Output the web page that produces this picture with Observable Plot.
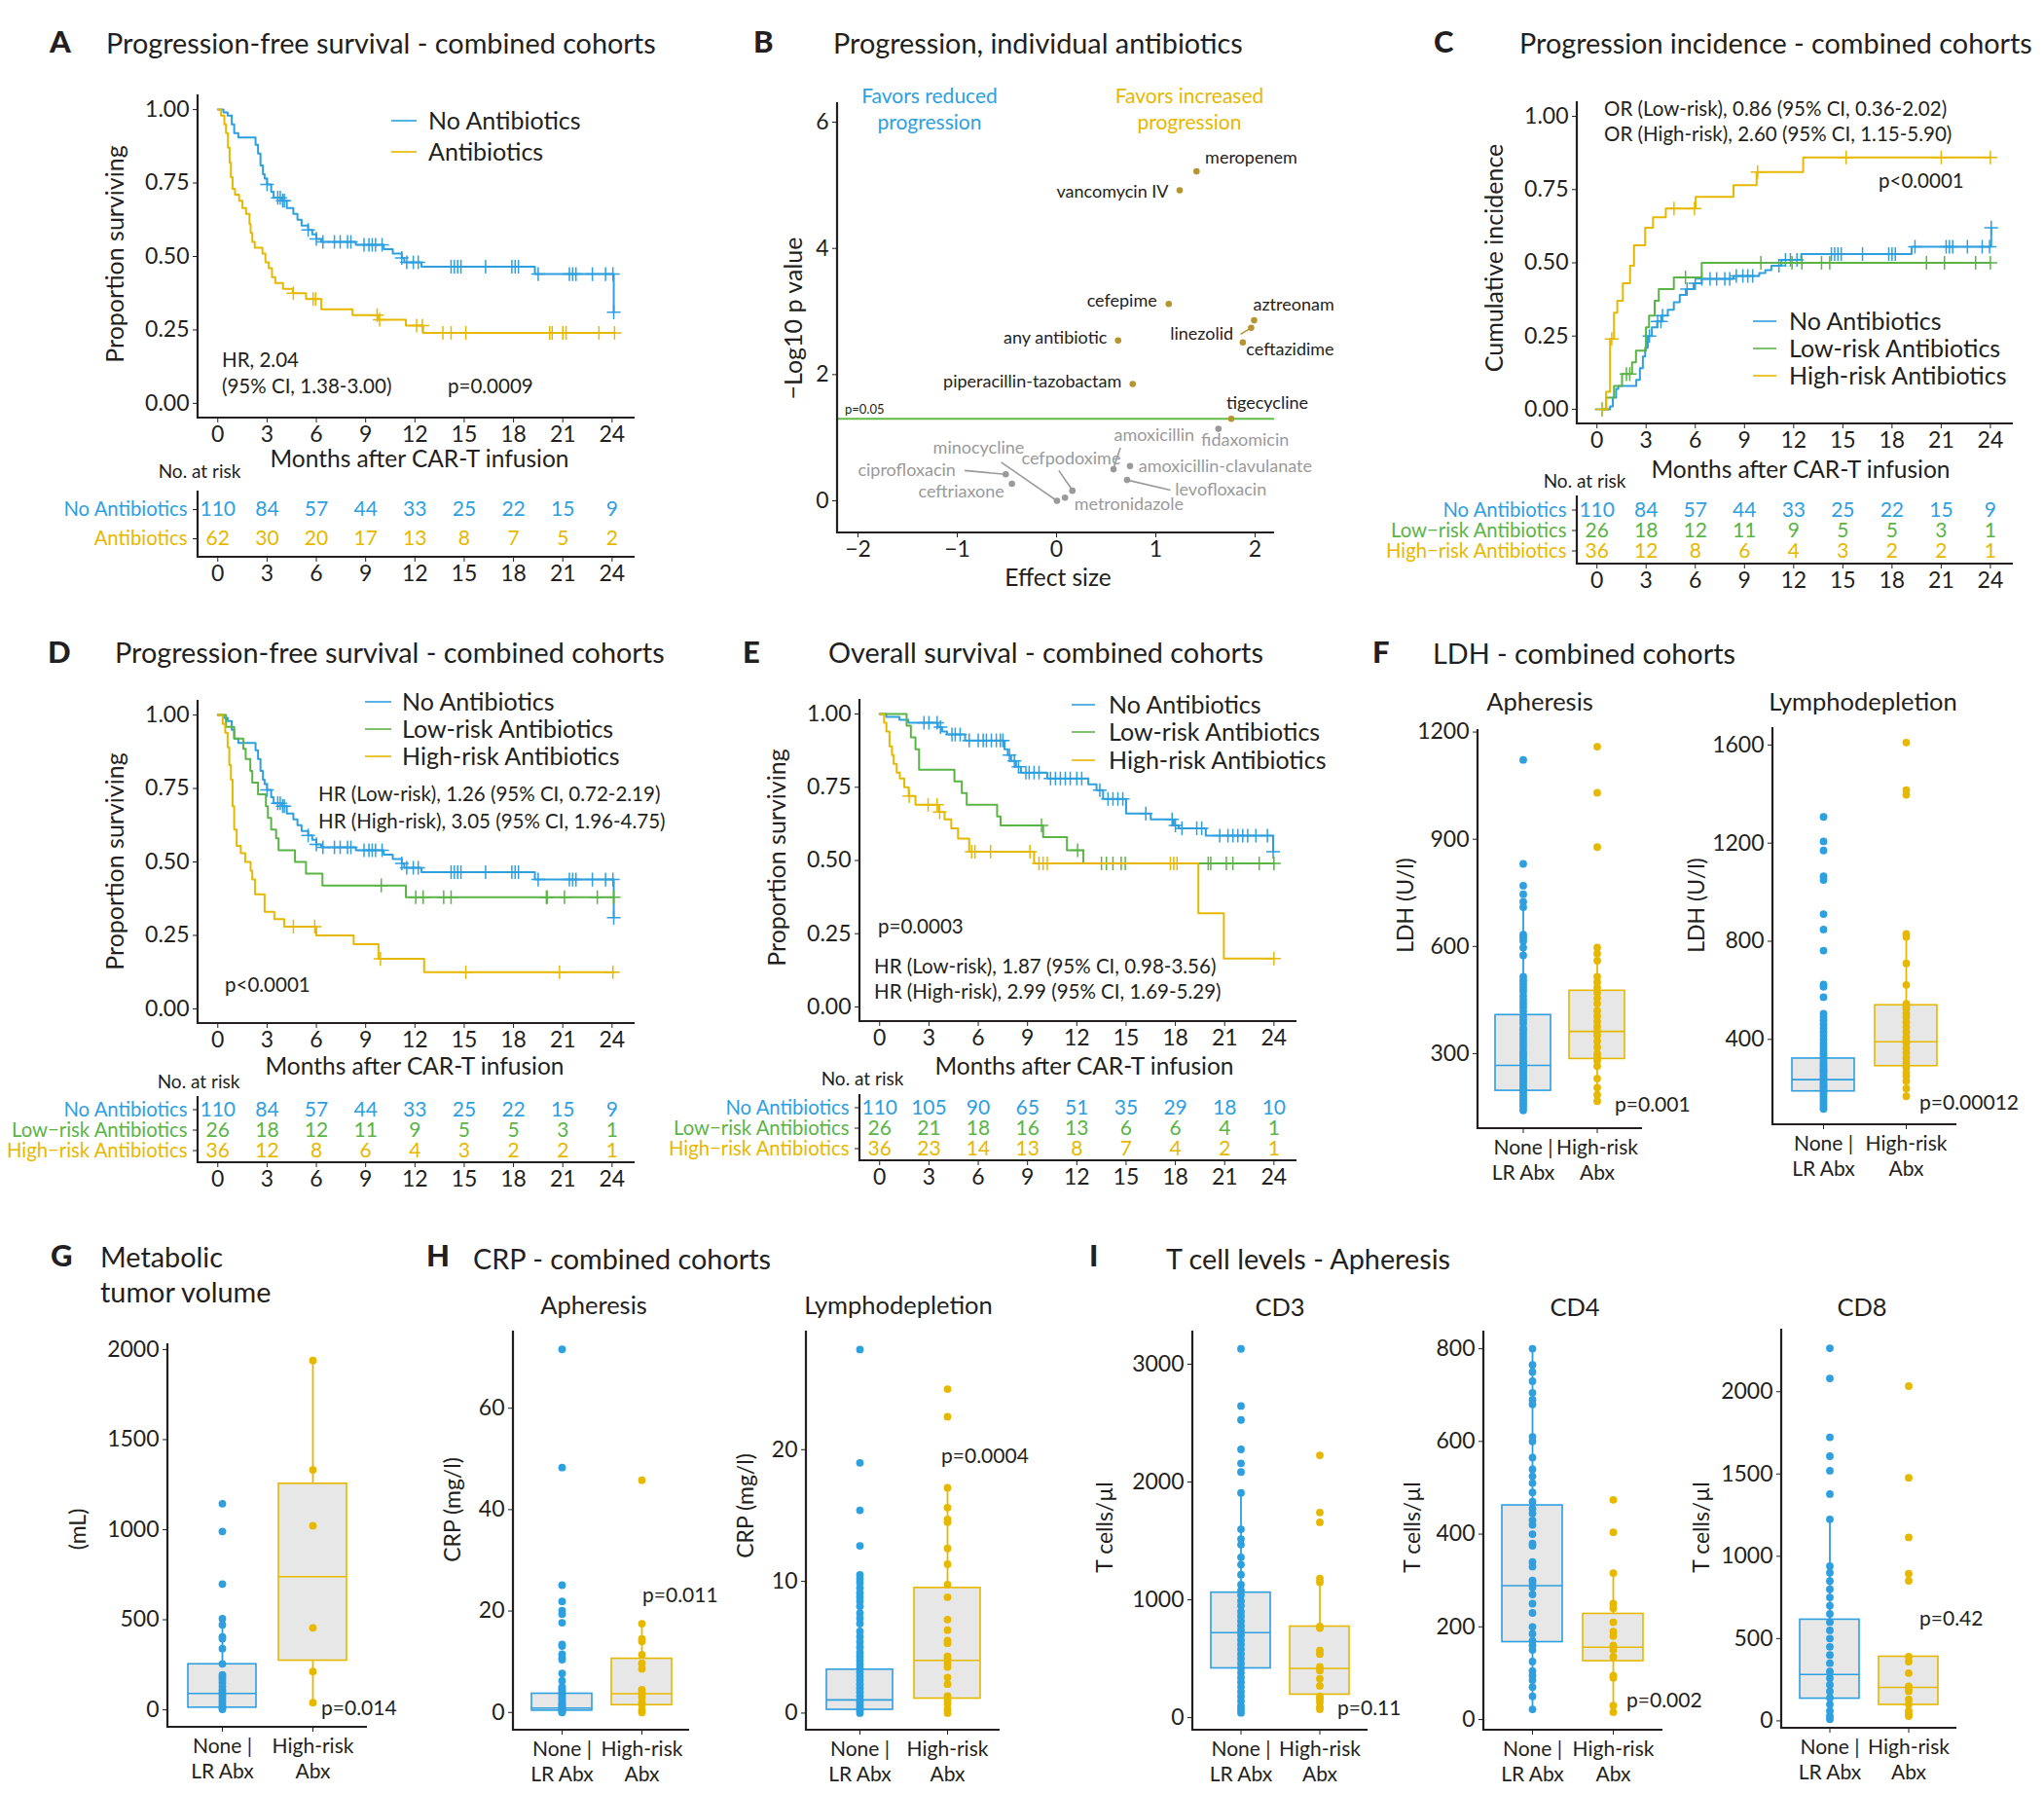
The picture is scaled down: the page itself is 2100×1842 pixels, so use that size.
<!DOCTYPE html>
<html>
<head>
<meta charset="utf-8">
<script src="https://cdn.jsdelivr.net/npm/d3@7"></script>
<script src="https://cdn.jsdelivr.net/npm/@observablehq/plot@0.6"></script>
<style>
html,body{margin:0;padding:0;background:#fff;}
#fig{position:relative;width:2100px;height:1842px;overflow:hidden;background:#fff;font-family:Lato,"Open Sans",sans-serif;}
</style>
</head>
<body>
<div id="fig"></div>
<script>
// ======================= DATA =======================
const monthTicks = [0, 3, 6, 9, 12, 15, 18, 21, 24];

// Progression-free survival, no antibiotics (panels A and D)
const pfsNoT = [0,0.35,0.6,0.85,1.0,1.25,2.3,2.45,2.6,2.75,2.85,3.0,3.25,3.4,3.9,4.2,4.6,4.85,5.1,5.5,5.75,6.0,6.3,8.4,10.1,10.65,11.2,11.35,12.4,19.3,24.1,24.1];
const pfsNoS = [1,0.99,0.98,0.95,0.92,0.905,0.88,0.85,0.81,0.78,0.765,0.745,0.72,0.70,0.69,0.665,0.645,0.625,0.605,0.59,0.575,0.56,0.55,0.54,0.525,0.51,0.495,0.48,0.465,0.44,0.44,0.31];
const pfsNoC = [3.0,3.65,3.8,3.95,4.05,5.5,6.0,6.4,7.1,7.45,7.9,8.1,8.9,9.2,9.4,9.6,10.0,11.2,11.5,11.9,12.2,14.2,14.4,14.6,14.8,16.3,17.9,18.1,18.3,19.5,21.4,21.6,21.8,22.8,23.6,24.05,24.1];

// PFS, any antibiotics (panel A)
const pfsAbxT = [0,0.2,0.4,0.5,0.62,0.72,0.8,0.9,1.05,1.3,1.5,1.72,1.93,2.0,2.1,2.25,2.72,2.9,3.1,3.3,3.5,3.97,4.57,5.37,6.3,8.2,9.8,11.45,12.5,24.15];
const pfsAbxS = [1,0.98,0.95,0.92,0.87,0.82,0.77,0.73,0.71,0.69,0.665,0.645,0.61,0.58,0.55,0.53,0.51,0.48,0.46,0.43,0.41,0.39,0.375,0.355,0.32,0.30,0.285,0.265,0.24,0.24];
const pfsAbxC = [4.6,5.8,5.95,9.7,9.85,12.1,12.45,13.7,14.2,15.1,20.2,20.35,21.0,21.2,23.2,24.15];

// PFS, low-risk / high-risk antibiotics (panel D)
const pfsLowT = [0,0.5,1.0,1.55,1.7,1.98,2.1,2.45,2.93,3.05,3.25,3.55,3.7,4.7,5.37,6.37,11.45,24.1];
const pfsLowS = [1,0.96,0.92,0.885,0.85,0.81,0.77,0.73,0.69,0.65,0.61,0.58,0.54,0.50,0.46,0.42,0.38,0.38];
const pfsLowC = [9.95,12.05,12.5,13.75,14.2,20.0,20.05,21.1,23.1,24.1];
const pfsHighT = [0,0.3,0.45,0.6,0.7,0.8,0.9,1.0,1.15,1.4,1.67,2.0,2.1,2.27,2.85,3.44,4.04,6.0,8.27,9.78,12.56,24.1];
const pfsHighS = [1,0.97,0.94,0.89,0.83,0.78,0.69,0.61,0.555,0.53,0.50,0.47,0.44,0.39,0.33,0.305,0.28,0.25,0.22,0.17,0.125,0.125];
const pfsHighC = [4.6,5.9,9.9,15.1,20.8,24.05];

// Cumulative incidence of progression (panel C)
const cinNoT = [0.3,0.8,0.97,1.17,1.3,2.4,2.62,2.8,2.94,3.1,3.35,3.67,3.96,4.32,4.69,5.05,5.42,5.9,6.39,8.33,9.9,10.27,10.64,11.25,12.46,19.19,24.05,24.05];
const cinNoS = [0,0.01,0.04,0.07,0.08,0.10,0.14,0.18,0.21,0.25,0.28,0.30,0.32,0.34,0.365,0.39,0.41,0.43,0.445,0.455,0.465,0.475,0.49,0.51,0.53,0.555,0.555,0.62];
const cinNoC = [0.3,3.2,3.7,3.9,4.0,5.5,6.0,6.4,6.9,7.3,7.8,8.1,8.5,8.9,9.2,9.5,11.1,11.5,11.8,12.2,14.3,14.5,14.7,14.9,16.2,17.8,18.0,18.2,19.4,21.3,21.5,21.7,22.6,23.5,23.95,24.05];
const cinLowT = [0.3,0.56,1.04,1.53,2.14,2.38,2.99,3.18,3.52,3.77,4.69,6.39,24.0];
const cinLowS = [0,0.04,0.08,0.12,0.16,0.20,0.28,0.32,0.37,0.41,0.45,0.50,0.50];
const cinLowC = [0.3,1.8,2.0,5.4,10.0,11.9,12.5,13.7,14.2,20.1,21.2,23.1,24.0];
const cinHighT = [0.3,0.56,0.8,1.04,1.24,1.58,2.02,2.26,2.94,3.42,4.2,6.02,8.33,9.74,12.58,24.0];
const cinHighS = [0,0.06,0.24,0.33,0.37,0.43,0.49,0.56,0.62,0.655,0.685,0.725,0.765,0.81,0.86,0.86];
const cinHighC = [0.3,0.9,4.7,5.95,9.8,15.2,21.0,24.0];

// Overall survival (panel E)
const osNoT = [0,0.4,1.2,1.75,3.55,3.8,4.1,5.2,7.6,7.8,8.0,8.3,8.6,10.2,12.7,13.2,13.6,15.0,16.5,17.9,18.2,19.85,23.95,23.95];
const osNoS = [1,0.99,0.98,0.97,0.955,0.94,0.93,0.91,0.88,0.86,0.84,0.82,0.80,0.78,0.76,0.74,0.71,0.66,0.64,0.62,0.61,0.585,0.585,0.53];
const osNoC = [2.7,3.0,3.5,3.7,4.4,4.6,4.9,5.45,6.0,6.3,6.5,6.8,7.1,7.35,7.5,7.9,8.2,8.45,8.9,9.1,9.4,9.7,10.4,10.7,11.0,11.3,11.6,12.0,12.3,13.4,13.9,14.2,14.5,14.8,16.2,17.8,18.0,18.4,19.3,19.6,20.7,21.2,21.5,21.8,22.1,22.4,22.9,23.6,23.95];
const osLowT = [0,1.64,1.9,2.18,2.4,4.55,5.0,5.3,7.15,7.36,9.95,11.4,12.4,24.0];
const osLowS = [1,0.96,0.92,0.88,0.81,0.77,0.73,0.69,0.65,0.62,0.58,0.535,0.49,0.49];
const osLowC = [9.85,12.05,13.5,13.8,14.2,14.7,14.95,20.0,20.15,21.1,21.5,23.1,24.0];
const osHighT = [0,0.27,0.41,0.6,0.75,0.85,1.04,1.23,1.5,1.77,2.18,3.6,3.95,4.36,4.77,5.45,9.4,19.4,20.95,24.0];
const osHighS = [1,0.97,0.94,0.89,0.86,0.83,0.80,0.78,0.75,0.72,0.69,0.665,0.64,0.61,0.575,0.53,0.49,0.32,0.165,0.165];
const osHighC = [1.8,2.95,3.5,3.65,5.6,5.8,6.75,9.15,9.7,9.95,10.2,17.7,17.9,18.1,24.0];

// Numbers at risk
const riskPfsNo   = [110,84,57,44,33,25,22,15,9];
const riskPfsAbx  = [62,30,20,17,13,8,7,5,2];
const riskPfsLow  = [26,18,12,11,9,5,5,3,1];
const riskPfsHigh = [36,12,8,6,4,3,2,2,1];
const riskOsNo    = [110,105,90,65,51,35,29,18,10];
const riskOsLow   = [26,21,18,16,13,6,6,4,1];
const riskOsHigh  = [36,23,14,13,8,7,4,2,1];
const riskGroups2 = ["No Antibiotics", "Antibiotics"];
const riskGroups3 = ["No Antibiotics", "Low\u2212risk Antibiotics", "High\u2212risk Antibiotics"];

// Panel B: individual antibiotics
const abxNames  = ["meropenem","vancomycin IV","cefepime","any antibiotic","aztreonam","linezolid","ceftazidime","piperacillin-tazobactam","tigecycline","fidaxomicin","amoxicillin","amoxicillin-clavulanate","levofloxacin","cefpodoxime","metronidazole","minocycline","ciprofloxacin","ceftriaxone"];
const abxEffect = [1.41,1.24,1.13,0.62,1.99,1.96,1.876,0.767,1.76,1.63,0.574,0.74,0.71,0.159,0.085,0.004,-0.512,-0.45];
const abxLogP   = [5.22,4.92,3.12,2.54,2.86,2.74,2.51,1.85,1.30,1.14,0.50,0.55,0.33,0.16,0.05,0.0,0.42,0.27];
const abxLabelX = [1.496,1.128,1.012,0.508,1.98,1.78,1.91,0.655,1.71,1.457,0.578,0.826,1.194,-0.353,0.178,-1.244,-1.016,-0.527];
const abxLabelY = [5.43,4.90,3.17,2.58,3.10,2.64,2.39,1.89,1.54,0.96,1.03,0.55,0.18,0.66,-0.06,0.83,0.49,0.15];
const abxLabelSide = ["start","end","end","end","start","end","start","end","start","start","start","start","start","start","start","start","end","end"];
const segNames = ["linezolid","amoxicillin","cefpodoxime","levofloxacin","minocycline","ciprofloxacin"];
const segX1 = [1.853,0.643,0.023,0.71,-0.558,-0.926];
const segY1 = [2.64,0.84,0.48,0.33,0.61,0.48];
const segX2 = [1.96,0.574,0.159,1.147,0.004,-0.512];
const segY2 = [2.74,0.52,0.17,0.17,0.0,0.42];

// Box plots: [lower whisker, Q1, median, Q3, upper whisker] for [None|LR Abx, High-risk Abx]
const boxCats = ["None |\nLR Abx", "High-risk\nAbx"];
const ldhAphBox = [[141,196,267,408,712],[167,285,362,476,597]];
const ldhAphNone = [1122,831,770,746,725,710,633,625,615,597,575,515,505,495,485,475,462,450,440,430,418,405,395,385,372,365,355,345,335,325,315,305,298,290,282,275,268,262,255,248,240,232,225,218,210,202,195,188,180,172,165,158,150,141];
const ldhAphHigh = [1159,1030,878,597,580,560,515,500,485,470,455,440,420,405,390,375,362,350,335,318,300,290,280,265,230,205,185,167];
const ldhLymBox = [[116,188,236,322,505],[168,291,390,539,818]];
const ldhLymNone = [1307,1207,1170,1065,1050,911,848,762,624,614,572,505,490,478,462,445,430,415,400,385,372,360,348,338,328,318,308,298,290,282,275,268,260,252,245,238,230,222,215,208,200,192,185,175,165,155,145,135,125,116];
const ldhLymHigh = [1610,1416,1397,830,818,710,622,545,535,525,505,490,470,450,430,410,395,385,365,345,325,305,285,265,250,230,200,168];
const mtvBox = [[0,12,91,253,506],[40,273,739,1255,1939]];
const mtvNone = [1144,990,698,506,472,405,395,340,255,194,180,165,150,130,110,95,80,65,50,35,22,10,3];
const mtvHigh = [1939,1332,1022,455,213,40];
const crpAphBox = [[0,0.36,0.86,3.7,7.7],[0,1.44,3.7,10.6,17.5]];
const crpAphNone = [71.6,48.3,25.1,21.9,20.1,19.4,17.7,13.4,13.1,11.5,10.8,10.4,7.7,6.25,5.0,4.6,4.2,3.8,3.4,3.0,2.6,2.2,1.8,1.5,1.2,1.0,0.8,0.6,0.4,0.2,0];
const crpAphHigh = [45.8,17.5,14.5,14.0,11.4,9.7,8.6,4.5,4.0,3.6,3.0,2.0,1.5,0.5,0];
const crpLymBox = [[0,0.25,1.0,3.3,7.8],[0,1.1,4.0,9.5,17.1]];
const crpLymNone = [27.6,19.0,15.4,12.7,10.5,10.2,9.9,9.5,9.1,8.8,8.5,8.1,7.6,7.2,6.8,6.2,5.8,5.4,5.0,4.6,4.3,4.0,3.7,3.4,3.1,2.8,2.5,2.2,1.9,1.6,1.3,1.0,0.8,0.6,0.4,0.2,0];
const crpLymHigh = [24.6,22.5,17.1,15.6,14.7,14.5,12.5,11.3,9.75,8.8,7.1,6.3,5.5,5.3,4.3,4.1,3.8,3.5,2.7,2.2,1.3,1.0,0.7,0.3,0];
const cd3Box = [[40,418,721,1061,1908],[71,195,418,773,1181]];
const cd3None = [3130,2645,2527,2277,2159,2085,1908,1599,1516,1469,1361,1299,1213,1129,1080,1040,990,950,900,860,820,780,740,700,660,620,580,540,500,460,420,380,340,300,260,220,180,140,100,70,40];
const cd3High = [2227,1741,1658,1181,1150,773,760,570,540,430,400,330,270,180,160,130,90,71];
const cd4Box = [[22,167,289,462,800],[16,126,156,228,316]];
const cd4None = [800,765,750,730,705,690,680,610,600,565,540,525,510,490,470,455,445,430,420,400,380,375,340,330,300,295,285,270,250,230,200,185,170,160,150,125,105,95,85,70,50,22];
const cd4High = [474,404,316,250,240,210,190,180,160,150,135,95,90,30,16];
const cd8Box = [[10,135,282,615,1225],[29,97,203,390,390]];
const cd8None = [2264,2081,1723,1608,1520,1378,1225,940,900,850,800,750,700,650,600,550,500,450,400,350,300,260,220,180,140,100,60,30,10];
const cd8High = [2034,1477,1115,894,851,390,360,290,210,200,180,130,100,60,40,29];

// ======================= STYLE / HELPERS =======================
const BLUE = "#2E9FDF", GOLD = "#E7B800", GREEN = "#5BB446", INK = "#231f20";
const OLIVE = "#B5952F", GRAYPT = "#9a9a9a", GRAYTX = "#9a9a9a", BOXFILL = "#e6e7e6";
const FONT = "Lato, 'Open Sans', sans-serif";
const KMX = [-1.2, 25.4], KMY = [-0.05, 1.05];
const fig = document.getElementById("fig");
const baseStyle = {fontFamily: FONT, fontSize: "23px", color: INK, background: "transparent", overflow: "visible"};

function place(svg, left, top) {
  svg.style.position = "absolute";
  svg.style.left = left + "px";
  svg.style.top = top + "px";
  fig.appendChild(svg);
}
function axisLines(svg, x0, y0, x1, y1) {
  d3.select(svg).append("path")
    .attr("d", `M${x0},${y0}V${y1}H${x1}`)
    .attr("fill", "none").attr("stroke", INK).attr("stroke-width", 2.2);
}
function steps(ts, ss) { return ts.map((t, i) => ({t, s: ss[i]})); }
function censorPts(ts, ss, cs) {
  return cs.map(c => { let k = 0; for (let i = 0; i < ts.length; i++) if (ts[i] <= c) k = i; return {t: c, s: ss[k]}; });
}

function kmPlot(frame, curves) {
  const ml = 70, mr = 10, mt = 10, mb = 40;
  const W = frame[2] - frame[0] + ml + mr, H = frame[3] - frame[1] + mt + mb;
  const marks = [];
  for (const c of curves) {
    marks.push(Plot.line(steps(c.t, c.s), {x: "t", y: "s", curve: "step-after", stroke: c.color, strokeWidth: 2}));
    marks.push(Plot.dot(censorPts(c.t, c.s, c.c), {x: "t", y: "s", symbol: "plus", r: 4.6, stroke: c.color, strokeWidth: 1.5}));
  }
  marks.push(Plot.axisX({ticks: monthTicks, tickSize: 5, tickPadding: 3, label: null, fontSize: 23}));
  marks.push(Plot.axisY({ticks: [0, 0.25, 0.5, 0.75, 1], tickFormat: d3.format(".2f"), tickSize: 5, tickPadding: 4, label: null, fontSize: 23}));
  const svg = Plot.plot({width: W, height: H, marginLeft: ml, marginRight: mr, marginTop: mt, marginBottom: mb,
    x: {domain: KMX, label: null}, y: {domain: KMY, label: null}, style: baseStyle, marks});
  axisLines(svg, ml, mt, W - mr, H - mb);
  place(svg, frame[0] - ml, frame[1] - mt);
}

function riskTable(frame, names, colors, counts) {
  const ml = 10, mr = 10, mt = 0, mb = 40;
  const W = frame[2] - frame[0] + ml + mr, H = frame[3] - frame[1] + mt + mb;
  const cells = [];
  names.forEach((g, i) => counts[i].forEach((n, j) => cells.push({t: monthTicks[j], g, n: String(n), c: colors[i]})));
  const rows = names.map((g, i) => ({g, c: colors[i]}));
  const svg = Plot.plot({width: W, height: H, marginLeft: ml, marginRight: mr, marginTop: mt, marginBottom: mb,
    x: {domain: KMX, label: null},
    y: {type: "band", domain: names, paddingInner: 0, paddingOuter: 0.1, label: null},
    color: {type: "identity"},
    style: baseStyle,
    marks: [
      Plot.text(cells, {x: "t", y: "g", text: "n", fill: "c", fontSize: 21}),
      Plot.text(rows, {x: () => KMX[0], y: "g", text: "g", fill: "c", textAnchor: "end", dx: -11, fontSize: 20.3}),
      Plot.axisX({ticks: monthTicks, tickSize: 5, tickPadding: 3, label: null, fontSize: 23}),
      Plot.axisY({tickSize: 5, tickFormat: () => "", label: null})
    ]});
  axisLines(svg, ml, mt, W - mr, H - mb);
  place(svg, frame[0] - ml, frame[1] - mt);
}

function boxPanel(frame, yd, yticks, box, none, high) {
  const ml = 80, mr = 10, mt = 10, mb = 75;
  const W = frame[2] - frame[0] + ml + mr, H = frame[3] - frame[1] + mt + mb;
  const cols = [BLUE, GOLD];
  const rows = boxCats.map((g, i) => ({g, lo: box[i][0], q1: box[i][1], med: box[i][2], q3: box[i][3], hi: box[i][4], c: cols[i]}));
  const pts = [...none.map(v => ({g: boxCats[0], v, c: BLUE})), ...high.map(v => ({g: boxCats[1], v, c: GOLD}))];
  const svg = Plot.plot({width: W, height: H, marginLeft: ml, marginRight: mr, marginTop: mt, marginBottom: mb,
    x: {type: "band", domain: boxCats, paddingInner: 0.25, paddingOuter: 0.225, label: null},
    y: {domain: yd, label: null},
    color: {type: "identity"},
    style: baseStyle,
    marks: [
      Plot.ruleX(rows, {x: "g", y1: "lo", y2: "hi", stroke: "c", strokeWidth: 1.8}),
      Plot.barY(rows, {x: "g", y1: "q1", y2: "q3", fill: BOXFILL, stroke: "c", strokeWidth: 1.6}),
      Plot.tickY(rows, {x: "g", y: "med", stroke: "c", strokeWidth: 1.6}),
      Plot.dot(pts, {x: "g", y: "v", fill: "c", r: 3.9}),
      Plot.axisX({tickSize: 5, tickPadding: 3, label: null, fontSize: 21, lineHeight: 1.25}),
      Plot.axisY({ticks: yticks, tickFormat: d3.format("d"), tickSize: 5, tickPadding: 4, label: null, fontSize: 23})
    ]});
  axisLines(svg, ml, mt, W - mr, H - mb);
  place(svg, frame[0] - ml, frame[1] - mt);
}

// ======================= PANELS =======================
// A
kmPlot([203, 97, 652, 429], [
  {t: pfsNoT, s: pfsNoS, c: pfsNoC, color: BLUE},
  {t: pfsAbxT, s: pfsAbxS, c: pfsAbxC, color: GOLD}
]);
riskTable([203, 504, 652, 572], riskGroups2, [BLUE, GOLD], [riskPfsNo, riskPfsAbx]);

// B
(function () {
  const frame = [860, 105, 1309, 547];
  const ml = 70, mr = 10, mt = 10, mb = 40;
  const W = frame[2] - frame[0] + ml + mr, H = frame[3] - frame[1] + mt + mb;
  const pts = abxNames.map((n, i) => ({n, e: abxEffect[i], p: abxLogP[i], lx: abxLabelX[i], ly: abxLabelY[i], side: abxLabelSide[i], sig: abxLogP[i] >= 1.29}));
  const segs = segNames.map((n, i) => ({x1: segX1[i], y1: segY1[i], x2: segX2[i], y2: segY2[i], sig: pts.find(d => d.n === n).sig}));
  const svg = Plot.plot({width: W, height: H, marginLeft: ml, marginRight: mr, marginTop: mt, marginBottom: mb,
    x: {domain: [-2.206, 2.196], label: null}, y: {domain: [-0.509, 6.309], label: null},
    color: {type: "identity"},
    style: baseStyle,
    marks: [
      Plot.ruleY([-Math.log10(0.05)], {stroke: "#62bb46", strokeWidth: 2}),
      Plot.link(segs, {x1: "x1", y1: "y1", x2: "x2", y2: "y2", stroke: d => d.sig ? OLIVE : GRAYPT, strokeWidth: 1.6}),
      Plot.dot(pts, {x: "e", y: "p", r: 3.3, fill: d => d.sig ? OLIVE : GRAYPT}),
      Plot.text(pts.filter(d => d.side === "start"), {x: "lx", y: "ly", text: "n", textAnchor: "start", fill: d => d.sig ? INK : GRAYTX, fontSize: 18}),
      Plot.text(pts.filter(d => d.side === "end"), {x: "lx", y: "ly", text: "n", textAnchor: "end", fill: d => d.sig ? INK : GRAYTX, fontSize: 18}),
      Plot.axisX({ticks: [-2, -1, 0, 1, 2], tickFormat: d3.format("d"), tickSize: 5, tickPadding: 3, label: null, fontSize: 23}),
      Plot.axisY({ticks: [0, 2, 4, 6], tickFormat: d3.format("d"), tickSize: 5, tickPadding: 4, label: null, fontSize: 23})
    ]});
  axisLines(svg, ml, mt, W - mr, H - mb);
  place(svg, frame[0] - ml, frame[1] - mt);
})();

// C
kmPlot([1620, 104, 2068, 435], [
  {t: cinNoT, s: cinNoS, c: cinNoC, color: BLUE},
  {t: cinLowT, s: cinLowS, c: cinLowC, color: GREEN},
  {t: cinHighT, s: cinHighS, c: cinHighC, color: GOLD}
]);
riskTable([1620, 509, 2068, 579], riskGroups3, [BLUE, GREEN, GOLD], [riskPfsNo, riskPfsLow, riskPfsHigh]);

// D
kmPlot([203, 719, 652, 1051], [
  {t: pfsNoT, s: pfsNoS, c: pfsNoC, color: BLUE},
  {t: pfsLowT, s: pfsLowS, c: pfsLowC, color: GREEN},
  {t: pfsHighT, s: pfsHighS, c: pfsHighC, color: GOLD}
]);
riskTable([203, 1126, 652, 1194], riskGroups3, [BLUE, GREEN, GOLD], [riskPfsNo, riskPfsLow, riskPfsHigh]);

// E
kmPlot([883, 718, 1332, 1049], [
  {t: osNoT, s: osNoS, c: osNoC, color: BLUE},
  {t: osLowT, s: osLowS, c: osLowC, color: GREEN},
  {t: osHighT, s: osHighS, c: osHighC, color: GOLD}
]);
riskTable([883, 1124, 1332, 1192], riskGroups3, [BLUE, GREEN, GOLD], [riskOsNo, riskOsLow, riskOsHigh]);

// F
boxPanel([1518, 749, 1687, 1159], [90, 1207], [300, 600, 900, 1200], ldhAphBox, ldhAphNone, ldhAphHigh);
boxPanel([1821, 747, 2010, 1155], [52, 1671], [400, 800, 1200, 1600], ldhLymBox, ldhLymNone, ldhLymHigh);
// G
boxPanel([172, 1380, 377, 1774], [-97, 2032], [0, 500, 1000, 1500, 2000], mtvBox, mtvNone, mtvHigh);
// H
boxPanel([527, 1367, 708, 1777], [-3.5, 75.2], [0, 20, 40, 60], crpAphBox, crpAphNone, crpAphHigh);
boxPanel([828, 1367, 1027, 1777], [-1.3, 29.0], [0, 10, 20], crpLymBox, crpLymNone, crpLymHigh);
// I
boxPanel([1225, 1367, 1405, 1777], [-107, 3281], [0, 1000, 2000, 3000], cd3Box, cd3None, cd3High);
boxPanel([1524, 1367, 1708, 1777], [-23, 838], [0, 200, 400, 600, 800], cd4Box, cd4None, cd4High);
boxPanel([1830, 1365, 2010, 1775], [-45, 2380], [0, 500, 1000, 1500, 2000], cd8Box, cd8None, cd8High);

// ======================= TEXT OVERLAY (titles, labels, legends) =======================
const ov = d3.select(fig).append("svg")
  .attr("width", 2100).attr("height", 1842)
  .style("position", "absolute").style("left", "0px").style("top", "0px")
  .style("pointer-events", "none").style("overflow", "visible")
  .attr("font-family", FONT);
function T(txt, x, y, o = {}) {
  const t = ov.append("text").attr("x", x).attr("y", y).attr("dy", "0.35em")
    .attr("font-size", o.fs || 20).attr("fill", o.color || INK)
    .attr("text-anchor", o.anchor || "start").text(txt);
  if (o.bold) t.attr("font-weight", o.bold);
  if (o.rot) t.attr("transform", `rotate(-90 ${x} ${y})`).attr("text-anchor", "middle");
  return t;
}
function L(x1, x2, y, color) {
  ov.append("line").attr("x1", x1).attr("x2", x2).attr("y1", y).attr("y2", y).attr("stroke", color).attr("stroke-width", 1.6);
}
const LET = {fs: 31, bold: 900}, TIT = {fs: 28.8}, AX = {fs: 25}, MID = {fs: 24.5, anchor: "middle"}, ANN = {fs: 20.5};

// Row 1
T("A", 51, 43, LET); T("Progression-free survival - combined cohorts", 109, 45, TIT);
T("Proportion surviving", 118, 261, {fs: 25, rot: true});
T("Months after CAR-T infusion", 431, 471, MID);
L(402, 428, 124, BLUE); T("No Antibiotics", 440, 124, AX);
L(402, 428, 156, GOLD); T("Antibiotics", 440, 156, AX);
T("HR, 2.04", 228, 370, ANN); T("(95% CI, 1.38-3.00)", 228, 397, ANN); T("p=0.0009", 460, 397, ANN);
T("No. at risk", 205, 484, {fs: 19, anchor: "middle"});

T("B", 774, 43, LET); T("Progression, individual antibiotics", 856, 45, TIT);
T("\u2212Log10 p value", 815, 327, {fs: 25, rot: true});
T("Effect size", 1087, 593, MID);
T("Favors reduced", 955, 99, {fs: 21, anchor: "middle", color: BLUE}); T("progression", 955, 126, {fs: 21, anchor: "middle", color: BLUE});
T("Favors increased", 1222, 99, {fs: 21, anchor: "middle", color: GOLD}); T("progression", 1222, 126, {fs: 21, anchor: "middle", color: GOLD});
T("p=0.05", 868, 420, {fs: 13});

T("C", 1473, 43, LET); T("Progression incidence - combined cohorts", 1561, 45, TIT);
T("Cumulative incidence", 1535, 265, {fs: 25, rot: true});
T("Months after CAR-T infusion", 1850, 482, MID);
T("OR (Low-risk), 0.86 (95% CI, 0.36-2.02)", 1648, 112, ANN);
T("OR (High-risk), 2.60 (95% CI, 1.15-5.90)", 1648, 138, ANN);
T("p<0.0001", 1930, 186, ANN);
L(1801, 1825, 330, BLUE); T("No Antibiotics", 1838, 330, AX);
L(1801, 1825, 358, GREEN); T("Low-risk Antibiotics", 1838, 358, AX);
L(1801, 1825, 386, GOLD); T("High-risk Antibiotics", 1838, 386, AX);
T("No. at risk", 1628, 494, {fs: 19, anchor: "middle"});

// Row 2
T("D", 49, 670, LET); T("Progression-free survival - combined cohorts", 118, 671, TIT);
T("Proportion surviving", 118, 885, {fs: 25, rot: true});
T("Months after CAR-T infusion", 426, 1095, MID);
L(375, 402, 721, BLUE); T("No Antibiotics", 413, 721, AX);
L(375, 402, 749, GREEN); T("Low-risk Antibiotics", 413, 749, AX);
L(375, 402, 777, GOLD); T("High-risk Antibiotics", 413, 777, AX);
T("HR (Low-risk), 1.26 (95% CI, 0.72-2.19)", 327, 816, ANN);
T("HR (High-risk), 3.05 (95% CI, 1.96-4.75)", 327, 844, ANN);
T("p<0.0001", 231, 1012, ANN);
T("No. at risk", 204, 1111, {fs: 19, anchor: "middle"});

T("E", 763, 670, LET); T("Overall survival - combined cohorts", 851, 671, TIT);
T("Proportion surviving", 798, 881, {fs: 25, rot: true});
T("Months after CAR-T infusion", 1114, 1095, MID);
L(1101, 1125, 724, BLUE); T("No Antibiotics", 1139, 724, AX);
L(1101, 1125, 752, GREEN); T("Low-risk Antibiotics", 1139, 752, AX);
L(1101, 1125, 781, GOLD); T("High-risk Antibiotics", 1139, 781, AX);
T("p=0.0003", 902, 952, ANN);
T("HR (Low-risk), 1.87 (95% CI, 0.98-3.56)", 898, 993, ANN);
T("HR (High-risk), 2.99 (95% CI, 1.69-5.29)", 898, 1019, ANN);
T("No. at risk", 886, 1108, {fs: 19, anchor: "middle"});

T("F", 1410, 670, LET); T("LDH - combined cohorts", 1472, 672, TIT);
T("Apheresis", 1582, 721, {fs: 25.5, anchor: "middle"}); T("Lymphodepletion", 1914, 721, {fs: 25.5, anchor: "middle"});
T("LDH (U/l)", 1444, 930, {fs: 23, rot: true}); T("LDH (U/l)", 1743, 930, {fs: 23, rot: true});
T("p=0.001", 1659, 1135, {fs: 21}); T("p=0.00012", 1972, 1133, {fs: 21});

// Row 3
T("G", 52, 1290, LET); T("Metabolic", 103, 1292, TIT); T("tumor volume", 103, 1328, TIT);
T("(mL)", 80, 1571, {fs: 23, rot: true});
T("p=0.014", 330, 1755, {fs: 21});

T("H", 438, 1290, LET); T("CRP - combined cohorts", 486, 1294, TIT);
T("Apheresis", 610, 1341, {fs: 25.5, anchor: "middle"}); T("Lymphodepletion", 923, 1341, {fs: 25.5, anchor: "middle"});
T("CRP (mg/l)", 465, 1551, {fs: 23, rot: true}); T("CRP (mg/l)", 766, 1547, {fs: 23, rot: true});
T("p=0.011", 660, 1639, {fs: 21}); T("p=0.0004", 967, 1496, {fs: 21});

T("I", 1119, 1290, LET); T("T cell levels - Apheresis", 1198, 1294, TIT);
T("CD3", 1315, 1343, {fs: 25.5, anchor: "middle"}); T("CD4", 1618, 1343, {fs: 25.5, anchor: "middle"}); T("CD8", 1913, 1343, {fs: 25.5, anchor: "middle"});
T("T cells/\u00b5l", 1135, 1569, {fs: 23, rot: true}); T("T cells/\u00b5l", 1451, 1569, {fs: 23, rot: true}); T("T cells/\u00b5l", 1748, 1569, {fs: 23, rot: true});
T("p=0.11", 1374, 1755, {fs: 21}); T("p=0.002", 1671, 1747, {fs: 21}); T("p=0.42", 1972, 1663, {fs: 21});
</script>
</body>
</html>
